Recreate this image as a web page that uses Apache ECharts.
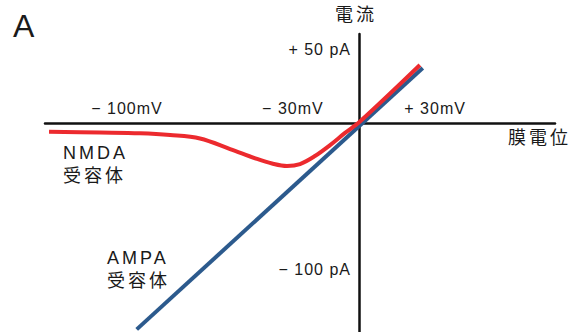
<!DOCTYPE html>
<html>
<head>
<meta charset="utf-8">
<script src="https://cdn.jsdelivr.net/npm/echarts@6/dist/echarts.min.js"></script>
<style>
  html, body { margin: 0; padding: 0; background: #fff; }
  #chart { width: 577px; height: 332px; }
</style>
</head>
<body>
<div id="chart"></div>
<script>
// Membrane potential (mV) vs. current (pA) for two glutamate receptor types
const ampaVoltage = [-93.8, 26.9];
const ampaCurrent = [-141.2, 37.6];

const nmdaVoltage = [-130.8, -109.3, -92.4, -79.7, -67.1, -54.4, -43.0, -36.7, -30.4, -24.9, -18.6, -12.2, -5.9, 0.4, 25.7];
const nmdaCurrent = [-6.0, -6.5, -7.0, -8.2, -10.6, -17.8, -24.6, -27.7, -29.4, -28.1, -22.6, -15.1, -6.8, 1.0, 39.7];

const voltageTicks = [-100, -30, 30];
const currentTicks = [50, -100];

const FONT = "'Liberation Sans', 'Noto Sans CJK JP', sans-serif";
const TEXT = '#1a1a1a';

// axis ranges; the plot rectangle is fixed so the axes can be moved onto zero with an offset
const X_MIN = -132.5, X_MAX = 82.7;
const Y_MIN = -143, Y_MAX = 60.9;
const GRID = { left: 45, right: 22, top: 34, bottom: 0 };
const PLOT_W = 577 - GRID.left - GRID.right;
const PLOT_H = 332 - GRID.top - GRID.bottom;
const xAxisOffset = -PLOT_H * (0 - Y_MIN) / (Y_MAX - Y_MIN);
const yAxisOffset = -PLOT_W * (0 - X_MIN) / (X_MAX - X_MIN);

const signed = v => (v < 0 ? '− ' + Math.abs(v) : '+ ' + v);
const zip = (xs, ys) => xs.map((x, i) => [x, ys[i]]);

const chart = echarts.init(document.getElementById('chart'), null, { renderer: 'svg' });
chart.setOption({
  animation: false,
  title: {
    text: 'A',
    left: 8,
    top: 5,
    textStyle: { fontFamily: FONT, fontSize: 32, fontWeight: 'normal', color: TEXT }
  },
  grid: Object.assign({ containLabel: false, outerBoundsMode: 'none' }, GRID),
  xAxis: {
    type: 'value',
    min: X_MIN,
    max: X_MAX,
    position: 'bottom',
    offset: xAxisOffset,
    axisLine: { onZero: false, lineStyle: { color: '#111', width: 2.5 } },
    axisTick: { show: false },
    splitLine: { show: false },
    axisLabel: {
      inside: true,
      margin: 7,
      padding: [0, 0, 0, 10],
      customValues: voltageTicks,
      fontFamily: FONT,
      fontSize: 16,
      color: TEXT,
      formatter: v => signed(v) + 'mV'
    }
  },
  yAxis: {
    type: 'value',
    min: Y_MIN,
    max: Y_MAX,
    position: 'left',
    offset: yAxisOffset,
    axisLine: { onZero: false, lineStyle: { color: '#111', width: 2.5 } },
    axisTick: { show: false },
    splitLine: { show: false },
    axisLabel: {
      margin: 8,
      customValues: currentTicks,
      fontFamily: FONT,
      fontSize: 16,
      color: TEXT,
      formatter: v => signed(v) + ' pA'
    }
  },
  series: [
    {
      name: 'AMPA',
      type: 'line',
      data: zip(ampaVoltage, ampaCurrent),
      showSymbol: false,
      lineStyle: { color: '#2c5a8d', width: 4 },
      z: 2
    },
    {
      name: 'NMDA',
      type: 'line',
      data: zip(nmdaVoltage, nmdaCurrent),
      smooth: 0.35,
      showSymbol: false,
      lineStyle: { color: '#ec2a2e', width: 4 },
      z: 3
    }
  ],
  graphic: [
    {
      type: 'text', left: 335, top: 6,
      style: { text: '電流', font: `18px ${FONT}`, fill: TEXT }
    },
    {
      type: 'text', left: 508, top: 129,
      style: { text: '膜電位', font: `18px ${FONT}`, fill: TEXT }
    },
    {
      type: 'text', left: 63, top: 141,
      style: { text: 'NMDA\n受容体', font: `18px ${FONT}`, fill: TEXT, lineHeight: 23 }
    },
    {
      type: 'text', left: 107, top: 246,
      style: { text: 'AMPA\n受容体', font: `18px ${FONT}`, fill: TEXT, lineHeight: 23 }
    }
  ]
});

// Loose tracking for the annotation type
document.querySelectorAll('#chart svg text').forEach(t => {
  const size = parseFloat(getComputedStyle(t).fontSize);
  if (size >= 17 && size < 20) t.style.letterSpacing = '3px';
  else if (size < 17) t.style.letterSpacing = '1px';
});
</script>
</body>
</html>
